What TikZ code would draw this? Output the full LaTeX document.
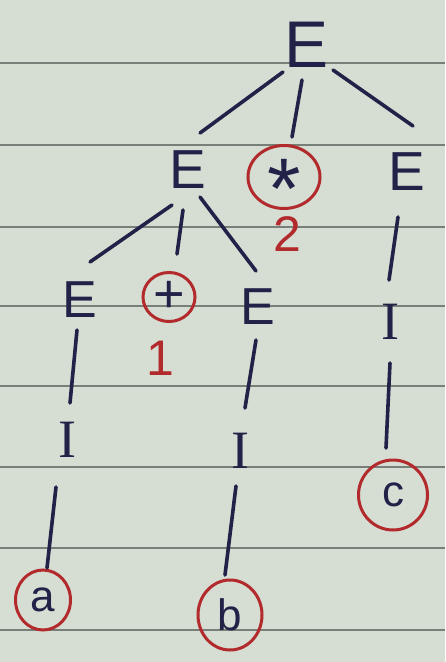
\documentclass[tikz,border=0pt]{standalone}
\usepackage{fontspec}
\setmainfont{Liberation Sans}
\newfontfamily\serifI{Liberation Serif}
\usetikzlibrary{calc,shapes.geometric}
\definecolor{paper}{RGB}{214,221,211}
\definecolor{rule}{RGB}{120,126,120}
\definecolor{ink}{RGB}{32,34,72}
\definecolor{redink}{RGB}{178,42,44}
\tikzset{
  sym/.style={text=ink, inner sep=0pt},
  big/.style={sym, font=\fontsize{66}{66}\selectfont},
  mid/.style={sym, font=\fontsize{55}{55}\selectfont},
  small/.style={sym, font=\fontsize{52}{52}\selectfont},
  letterI/.style={sym, font=\serifI\fontsize{54}{54}\selectfont},
  leaf/.style={sym, font=\fontsize{44}{44}\selectfont},
  circled/.style={ellipse, draw=redink, line width=3pt},
  num/.style={text=redink, inner sep=0pt, text height=36pt, text depth=0pt, font=\fontsize{50}{50}\selectfont},
  edge/.style={draw=ink, line width=3.6pt, line cap=round},
  ruled/.style={draw=rule, line width=2pt}
}
\begin{document}
\begin{tikzpicture}[x=1pt,y=-1pt]
\path[use as bounding box, fill=paper] (0,0) rectangle (445,662);
\foreach \yy in {63,145,227,306,386,467,548,630}
  \draw[ruled] (0,\yy) -- (445,\yy);
% nodes
\node[big] (root) at (307,45) {E};
\node[mid] (e1) at (188,170) {E};
\node[sym, circled, minimum width=72pt, minimum height=63pt, font=\fontsize{86}{86}\selectfont] (star) at (284,177) {\smash{\raisebox{-41pt}{*}}};
\node[num] (two) at (287,233) {2};
\node[mid] (e2) at (407,172) {E};
\node[small] (e11) at (80,300) {E};
\node[sym, circled, minimum width=52pt, minimum height=49pt, font=\fontsize{54}{54}\selectfont] (plus) at (169,297) {\raisebox{-2pt}{+}};
\node[num] (one) at (160,357) {1};
\node[small] (e12) at (258,307) {E};
\node[letterI] (i2) at (390,322) {I};
\node[letterI] (i11) at (67,440) {I};
\node[letterI] (i12) at (240,451) {I};
\node[leaf, circled, minimum width=69pt, minimum height=70pt] (c) at (393,495) {c};
\node[leaf, circled, minimum width=55pt, minimum height=60pt] (a) at (43,600) {a};
\node[leaf, circled, minimum width=64pt, minimum height=70pt] (b) at (230,615) {b};
% connectors
\draw[edge] ($(root)+(-24,27)$) -- ($(e1)+(12,-37)$);
\draw[edge] ($(root)+(-5,35)$) -- ($(star)+(8,-40)$);
\draw[edge] ($(root)+(26,25)$) -- ($(e2)+(6,-46)$);
\draw[edge] ($(e1)+(-16,35)$) -- ($(e11)+(10,-38)$);
\draw[edge] ($(e1)+(-5,40)$) -- ($(plus)+(8,-43)$);
\draw[edge] ($(e1)+(12,27)$) -- ($(e12)+(-2,-36)$);
\draw[edge] ($(e2)+(-9,45)$) -- ($(i2)+(-1,-42)$);
\draw[edge] ($(i2)+(0,41)$) -- ($(c)+(-7,-47)$);
\draw[edge] ($(e11)+(-3,30)$) -- ($(i11)+(3,-37)$);
\draw[edge] ($(i11)+(-11,47)$) -- ($(a)+(4,-32)$);
\draw[edge] ($(e12)+(-2,33)$) -- ($(i12)+(5,-43)$);
\draw[edge] ($(i12)+(-4,35)$) -- ($(b)+(-5,-40)$);
\end{tikzpicture}
\end{document}
